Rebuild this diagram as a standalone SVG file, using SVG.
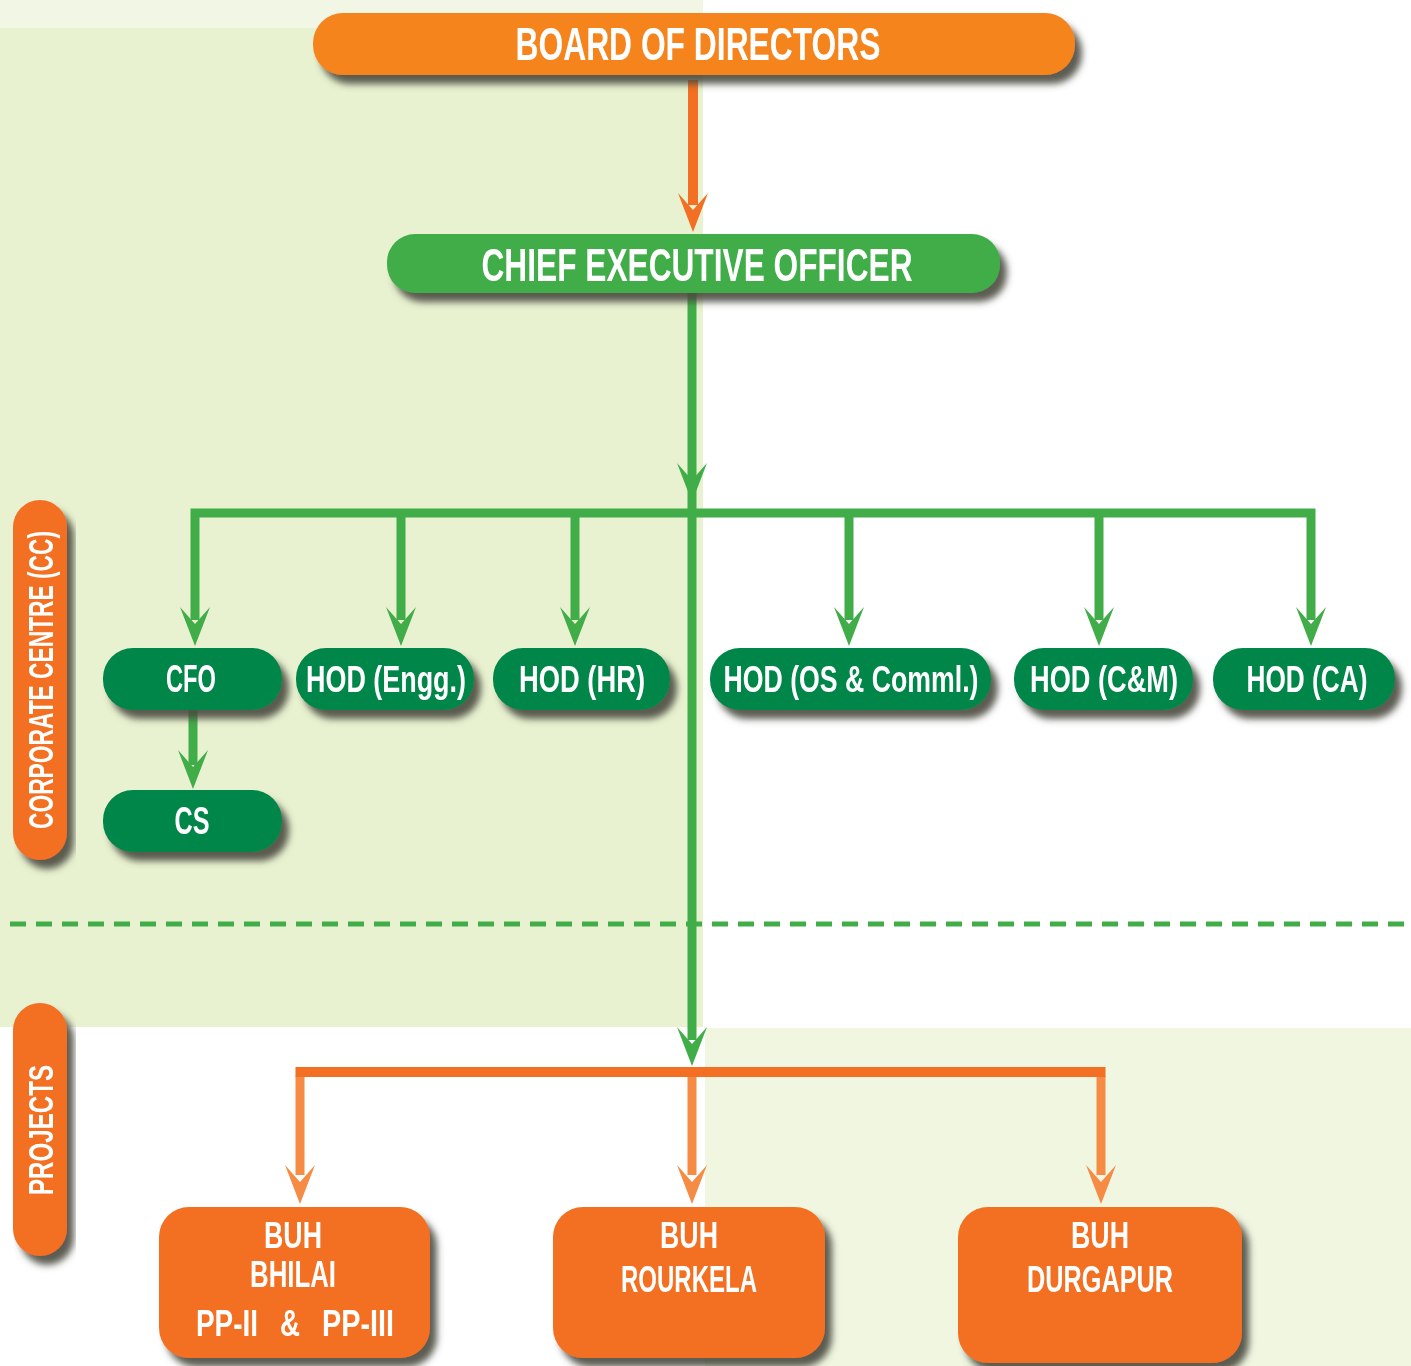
<svg xmlns="http://www.w3.org/2000/svg" xmlns:xlink="http://www.w3.org/1999/xlink" width="1411" height="1366" viewBox="0 0 1411 1366">
<defs>
<filter id="sh" x="-10%" y="-20%" width="125%" height="150%">
<feGaussianBlur in="SourceAlpha" stdDeviation="3.5"/>
<feOffset dx="7" dy="9" result="b"/>
<feFlood flood-color="#4a4a40" flood-opacity="0.9"/>
<feComposite in2="b" operator="in"/>
<feMerge><feMergeNode/><feMergeNode in="SourceGraphic"/></feMerge>
</filter>
<path id="ah" d="M0,0 L15,-39 L0,-22 L-15,-39 Z"/>
<style>
.t{font-family:"Liberation Sans Narrow","Liberation Sans",Arial,sans-serif;font-weight:bold;fill:#fff;text-anchor:middle}
.gl{stroke:#41ad49;stroke-width:9;fill:none}
.ol{stroke:#f26f23;stroke-width:10;fill:none}
.ol2{stroke:#f68b45;stroke-width:9;fill:none}
.node{fill:#008649}
.buh{fill:#f37021}
</style>
</defs>
<rect width="1411" height="1366" fill="#fff"/>
<rect x="0" y="0" width="703" height="28" fill="#f1f7e4"/>
<rect x="0" y="28" width="703" height="999" fill="#e8f2d0"/>
<rect x="705" y="1028" width="706" height="338" fill="#f0f6e0"/>

<g id="connectors">
<line class="ol" x1="693" y1="80" x2="693" y2="205" stroke-width="9"/>
<use xlink:href="#ah" x="693" y="232" fill="#f26f23"/>
<line class="gl" x1="692" y1="290" x2="692" y2="1040"/>
<use xlink:href="#ah" x="692" y="502" fill="#41ad49"/>
<use xlink:href="#ah" x="692" y="1066" fill="#41ad49"/>
<polyline class="gl" points="195,620 195,513 1311,513 1311,620"/>
<line class="gl" x1="401" y1="513" x2="401" y2="620"/>
<line class="gl" x1="575" y1="513" x2="575" y2="620"/>
<line class="gl" x1="849" y1="513" x2="849" y2="620"/>
<line class="gl" x1="1099" y1="513" x2="1099" y2="620"/>
<use xlink:href="#ah" x="195" y="646" fill="#41ad49"/>
<use xlink:href="#ah" x="401" y="646" fill="#41ad49"/>
<use xlink:href="#ah" x="575" y="646" fill="#41ad49"/>
<use xlink:href="#ah" x="849" y="646" fill="#41ad49"/>
<use xlink:href="#ah" x="1099" y="646" fill="#41ad49"/>
<use xlink:href="#ah" x="1311" y="646" fill="#41ad49"/>
<line class="gl" x1="193" y1="708" x2="193" y2="765"/>
<use xlink:href="#ah" x="193" y="789" fill="#41ad49"/>
<line x1="10" y1="924" x2="1411" y2="924" stroke="#41ad49" stroke-width="5" stroke-dasharray="16,10"/>
<line class="ol2" x1="300" y1="1076" x2="300" y2="1175"/>
<line class="ol2" x1="692" y1="1076" x2="692" y2="1175"/>
<line class="ol2" x1="1101" y1="1076" x2="1101" y2="1175"/>
<line class="ol" x1="295.5" y1="1072" x2="1105.5" y2="1072"/>
<use xlink:href="#ah" x="300" y="1204" fill="#f68b45"/>
<use xlink:href="#ah" x="692" y="1204" fill="#f68b45"/>
<use xlink:href="#ah" x="1101" y="1204" fill="#f68b45"/>
</g>

<g id="board" filter="url(#sh)">
<rect x="313" y="13" width="762" height="62" rx="30" fill="#f5841f"/>
<text class="t" x="698" y="60" font-size="46" textLength="365" lengthAdjust="spacingAndGlyphs">BOARD OF DIRECTORS</text>
</g>
<g id="ceo" filter="url(#sh)">
<rect x="387" y="234" width="613" height="59" rx="28" fill="#40ad4a"/>
<text class="t" x="697" y="281" font-size="47" textLength="431" lengthAdjust="spacingAndGlyphs">CHIEF EXECUTIVE OFFICER</text>
</g>

<g id="cc-label" filter="url(#sh)">
<rect x="13" y="500" width="54" height="360" rx="27" fill="#f37021"/>
<text class="t" transform="translate(53,680) rotate(-90)" font-size="35" textLength="298" lengthAdjust="spacingAndGlyphs">CORPORATE CENTRE (CC)</text>
</g>
<g id="projects-label" filter="url(#sh)">
<rect x="13" y="1003" width="54" height="253" rx="27" fill="#f37021"/>
<text class="t" transform="translate(53,1130) rotate(-90)" font-size="35" textLength="130" lengthAdjust="spacingAndGlyphs">PROJECTS</text>
</g>

<g id="cfo" filter="url(#sh)">
<rect class="node" x="103" y="648" width="179" height="62" rx="30"/>
<text class="t" x="191" y="692" font-size="38" textLength="50" lengthAdjust="spacingAndGlyphs">CFO</text>
</g>
<g id="hod-engg" filter="url(#sh)">
<rect class="node" x="296" y="648" width="178" height="62" rx="30"/>
<text class="t" x="386" y="692" font-size="36" textLength="160" lengthAdjust="spacingAndGlyphs">HOD (Engg.)</text>
</g>
<g id="hod-hr" filter="url(#sh)">
<rect class="node" x="493" y="648" width="177" height="62" rx="30"/>
<text class="t" x="582" y="692" font-size="36" textLength="126" lengthAdjust="spacingAndGlyphs">HOD (HR)</text>
</g>
<g id="hod-os" filter="url(#sh)">
<rect class="node" x="710" y="648" width="281" height="62" rx="30"/>
<text class="t" x="851" y="692" font-size="36" textLength="255" lengthAdjust="spacingAndGlyphs">HOD (OS &amp; Comml.)</text>
</g>
<g id="hod-cm" filter="url(#sh)">
<rect class="node" x="1014" y="648" width="179" height="62" rx="30"/>
<text class="t" x="1104" y="692" font-size="36" textLength="148" lengthAdjust="spacingAndGlyphs">HOD (C&amp;M)</text>
</g>
<g id="hod-ca" filter="url(#sh)">
<rect class="node" x="1213" y="648" width="182" height="62" rx="30"/>
<text class="t" x="1307" y="692" font-size="36" textLength="121" lengthAdjust="spacingAndGlyphs">HOD (CA)</text>
</g>
<g id="cs" filter="url(#sh)">
<rect class="node" x="103" y="790" width="179" height="62" rx="30"/>
<text class="t" x="192" y="834" font-size="38" textLength="35" lengthAdjust="spacingAndGlyphs">CS</text>
</g>

<g id="buh-bhilai" filter="url(#sh)">
<rect class="buh" x="159" y="1207" width="271" height="151" rx="30"/>
<text class="t" x="293" y="1248" font-size="36" textLength="58" lengthAdjust="spacingAndGlyphs">BUH</text>
<text class="t" x="293" y="1287" font-size="36" textLength="86" lengthAdjust="spacingAndGlyphs">BHILAI</text>
<text class="t" x="227" y="1336" font-size="36" textLength="62" lengthAdjust="spacingAndGlyphs">PP-II</text>
<text class="t" x="290" y="1336" font-size="36" textLength="20" lengthAdjust="spacingAndGlyphs">&amp;</text>
<text class="t" x="358" y="1336" font-size="36" textLength="72" lengthAdjust="spacingAndGlyphs">PP-III</text>
</g>
<g id="buh-rourkela" filter="url(#sh)">
<rect class="buh" x="553" y="1207" width="272" height="151" rx="30"/>
<text class="t" x="689" y="1248" font-size="36" textLength="58" lengthAdjust="spacingAndGlyphs">BUH</text>
<text class="t" x="689" y="1292" font-size="36" textLength="136" lengthAdjust="spacingAndGlyphs">ROURKELA</text>
</g>
<g id="buh-durgapur" filter="url(#sh)">
<rect class="buh" x="958" y="1207" width="284" height="156" rx="30"/>
<text class="t" x="1100" y="1248" font-size="36" textLength="58" lengthAdjust="spacingAndGlyphs">BUH</text>
<text class="t" x="1100" y="1292" font-size="36" textLength="146" lengthAdjust="spacingAndGlyphs">DURGAPUR</text>
</g>
</svg>
